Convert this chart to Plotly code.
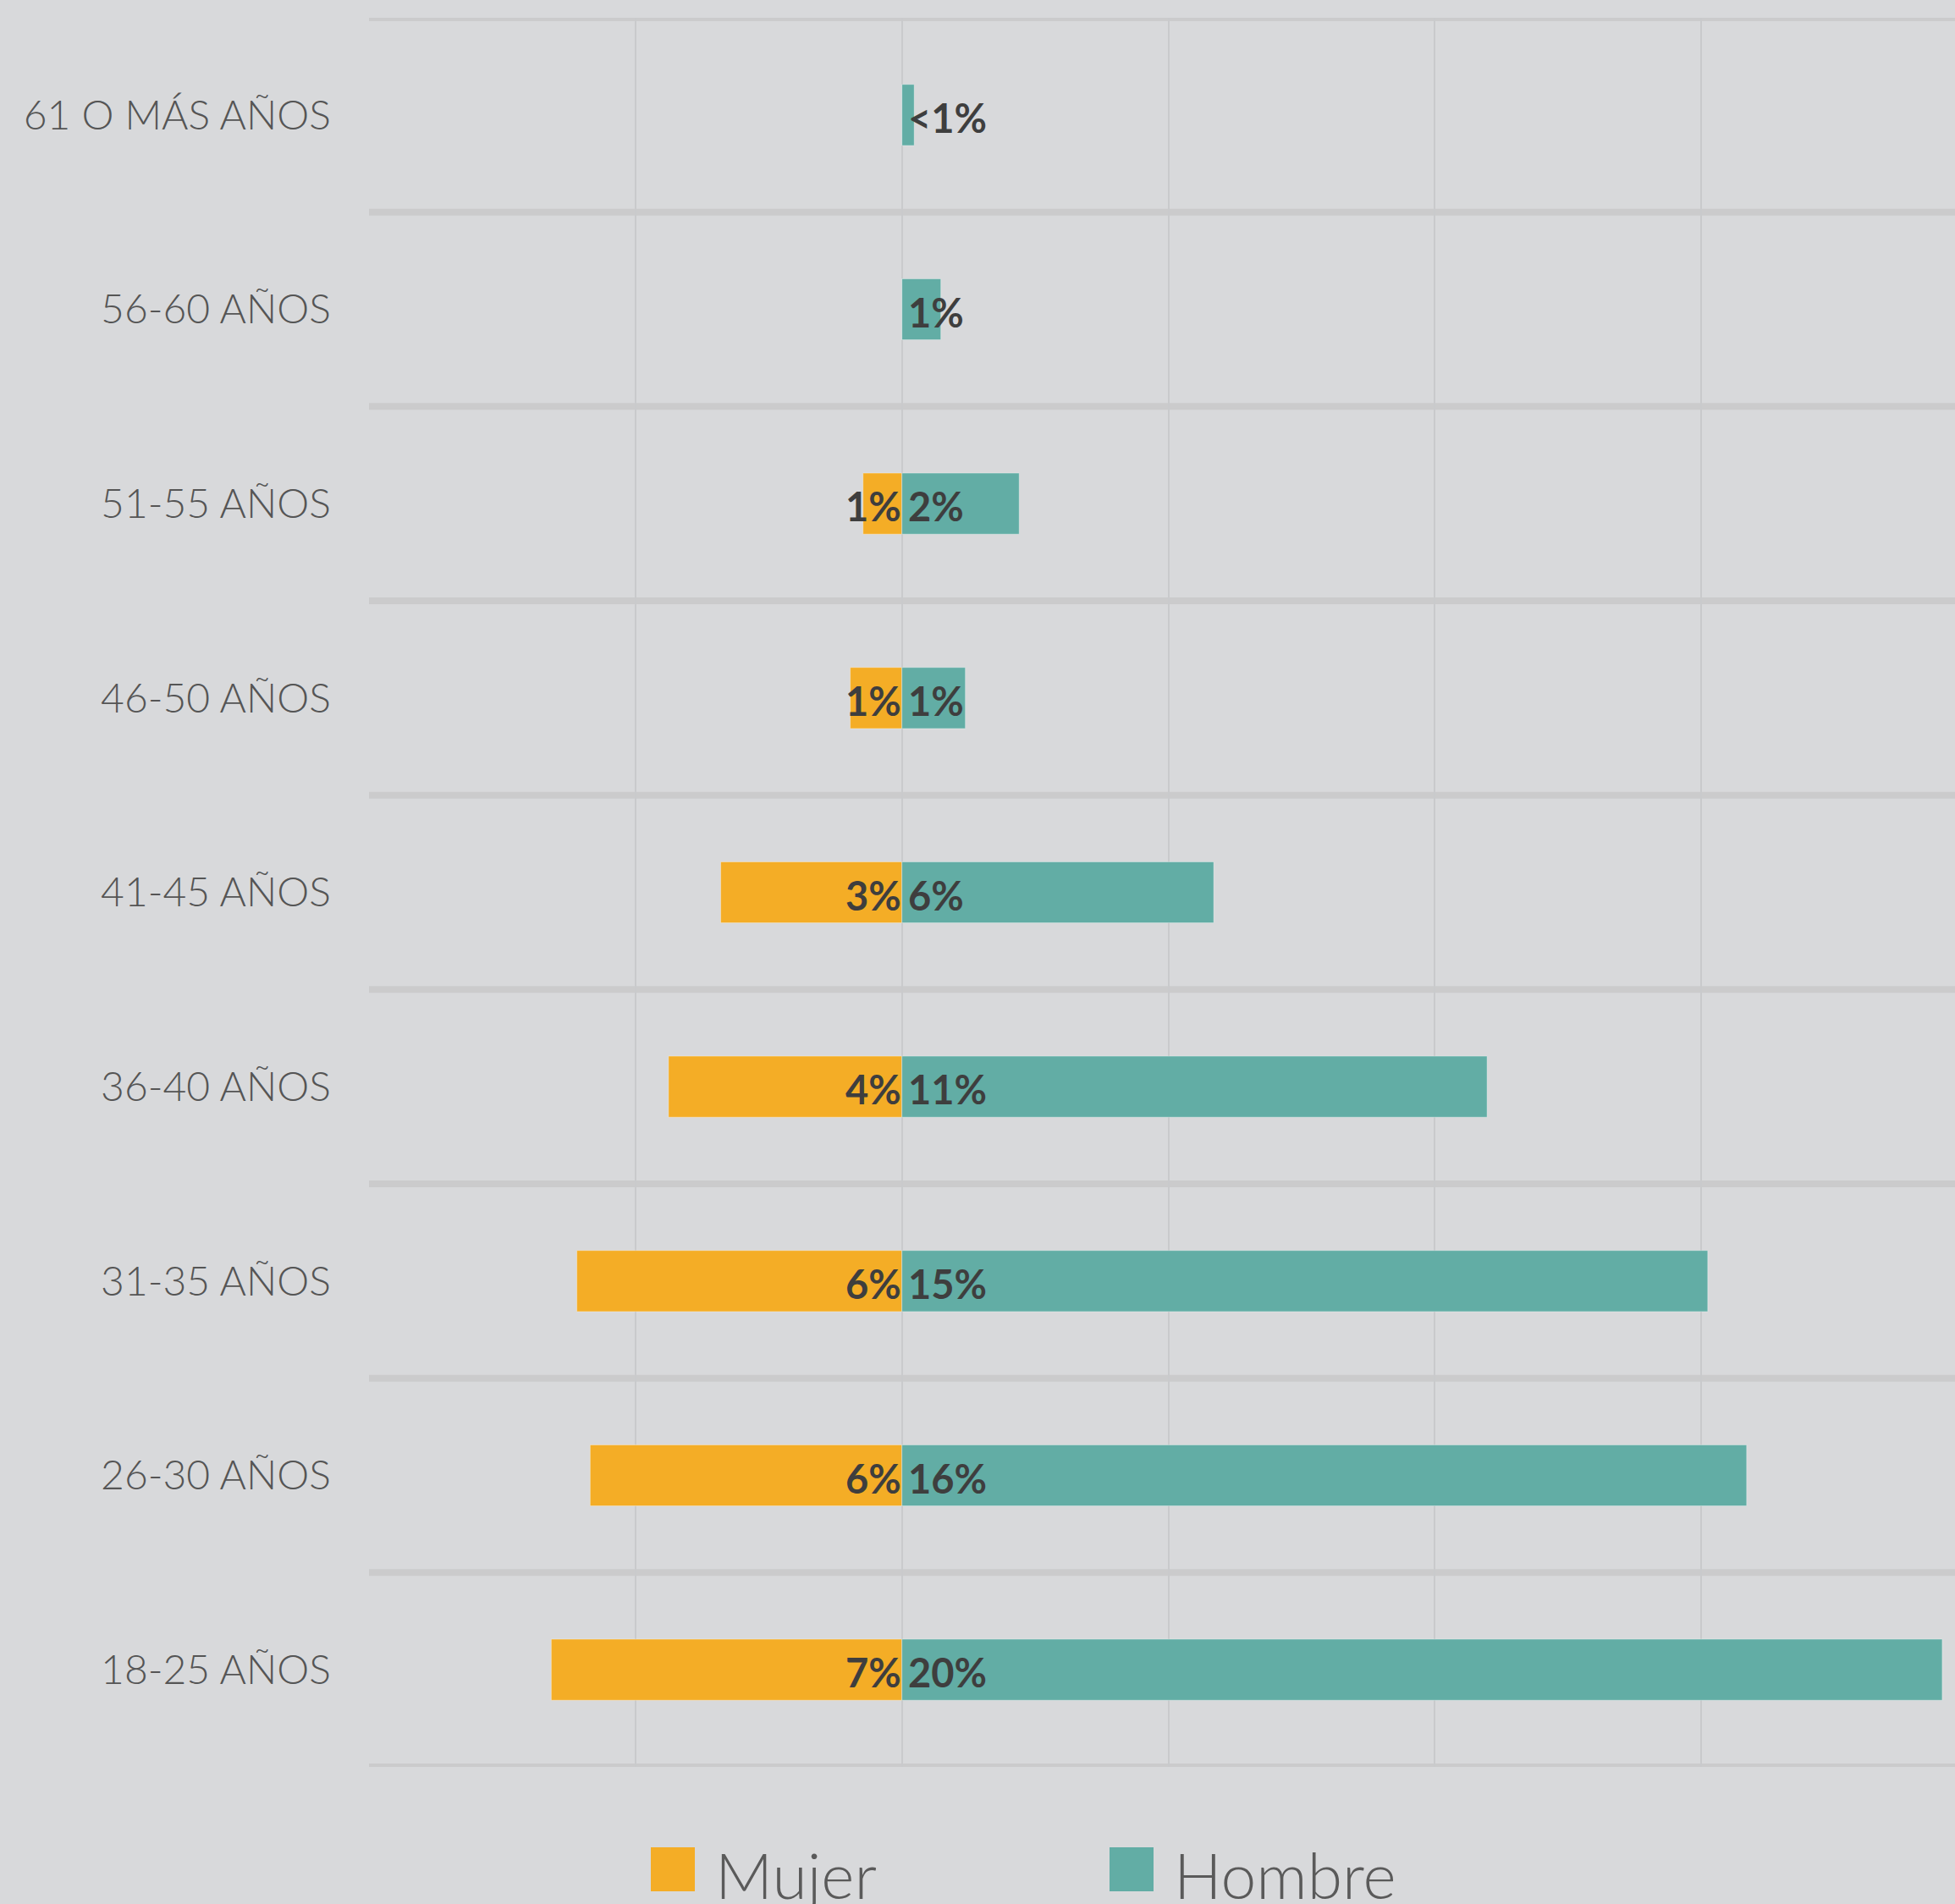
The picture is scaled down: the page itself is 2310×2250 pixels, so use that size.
import plotly.graph_objects as go

categories = ["18-25 AÑOS", "26-30 AÑOS", "31-35 AÑOS", "36-40 AÑOS", "41-45 AÑOS",
              "46-50 AÑOS", "51-55 AÑOS", "56-60 AÑOS", "61 O MÁS AÑOS"]
mujer = [6.58, 5.85, 6.10, 4.38, 3.40, 0.97, 0.73, 0, 0]
hombre = [19.52, 15.85, 15.12, 10.98, 5.85, 1.19, 2.20, 0.73, 0.23]
mujer_labels = ["7%", "6%", "6%", "4%", "3%", "1%", "1%", "", ""]
hombre_labels = ["20%", "16%", "15%", "11%", "6%", "1%", "2%", "1%", "<1%"]
series_names = ["Mujer", "Hombre"]
series_colors = ["#F4AD26", "#62ADA5"]

BG = "#D8D9DB"
W, H = 2310, 2250
ML, MR, MT, MB = 436, 0, 21, 162

fig = go.Figure()
fig.add_trace(go.Bar(y=categories, x=[-v for v in mujer], orientation="h", name=series_names[0],
                     marker=dict(color=series_colors[0], line=dict(width=1, color="rgba(255,255,255,0.35)")),
                     width=0.314, hoverinfo="skip"))
fig.add_trace(go.Bar(y=categories, x=hombre, orientation="h", name=series_names[1],
                     marker=dict(color=series_colors[1], line=dict(width=1, color="rgba(255,255,255,0.35)")),
                     width=0.314, hoverinfo="skip"))

lab_font = dict(family="Lato", size=47, color="#3E3E3E", weight=700)
annotations = []
for cat, t in zip(categories, mujer_labels):
    if t:
        annotations.append(dict(x=0, y=cat, xref="x", yref="y", text=t, showarrow=False,
                                xanchor="right", yanchor="middle", xshift=1, yshift=-3, font=lab_font))
for cat, t in zip(categories, hombre_labels):
    if t:
        annotations.append(dict(x=0, y=cat, xref="x", yref="y", text=t, showarrow=False,
                                xanchor="left", yanchor="middle", xshift=5, yshift=-3, font=lab_font))

shapes = []
for i in range(len(categories) + 1):
    shapes.append(dict(type="line", xref="paper", yref="y", x0=0, x1=1, y0=i - 0.5, y1=i - 0.5,
                       line=dict(color="#CBCBCC", width=8), layer="below"))

# manual legend
ph = H - MT - MB
def px_to_paper_y(py):
    return (H - MB - py) / ph
def px_to_paper_x(px):
    return (px - ML) / (W - ML - MR)

legend_x = [769, 1311]
for name, col, lx in zip(series_names, series_colors, legend_x):
    shapes.append(dict(type="rect", xref="paper", yref="paper",
                       x0=px_to_paper_x(lx), x1=px_to_paper_x(lx + 52),
                       y0=px_to_paper_y(2235), y1=px_to_paper_y(2183),
                       fillcolor=col, line=dict(width=0)))
    annotations.append(dict(xref="paper", yref="paper", x=px_to_paper_x(lx + 74), y=px_to_paper_y(2215),
                            xanchor="left", yanchor="middle", text=name, showarrow=False,
                            font=dict(family="Lato", size=75, color="#5A5A5A", weight=300)))

fig.update_layout(
    width=W, height=H, margin=dict(l=ML, r=MR, t=MT, b=MB),
    paper_bgcolor=BG, plot_bgcolor=BG, barmode="overlay", showlegend=False,
    shapes=shapes, annotations=annotations,
    xaxis=dict(range=[-10, 19.76], tickvals=[-10, -5, 0, 5, 10, 15], showticklabels=False,
               showgrid=True, gridcolor="#C9CACC", gridwidth=1.5, zeroline=False, fixedrange=True),
    yaxis=dict(range=[-0.5, 8.5], type="category", showgrid=False, zeroline=False,
               tickfont=dict(family="Lato", size=48, color="#555555", weight=300),
               ticks="", ticklabelstandoff=44, fixedrange=True),
)

fig.write_html("out.html", config={"displayModeBar": False},
               post_script="document.body.style.margin='0';document.body.style.overflow='hidden';document.body.style.background='#D8D9DB';")
